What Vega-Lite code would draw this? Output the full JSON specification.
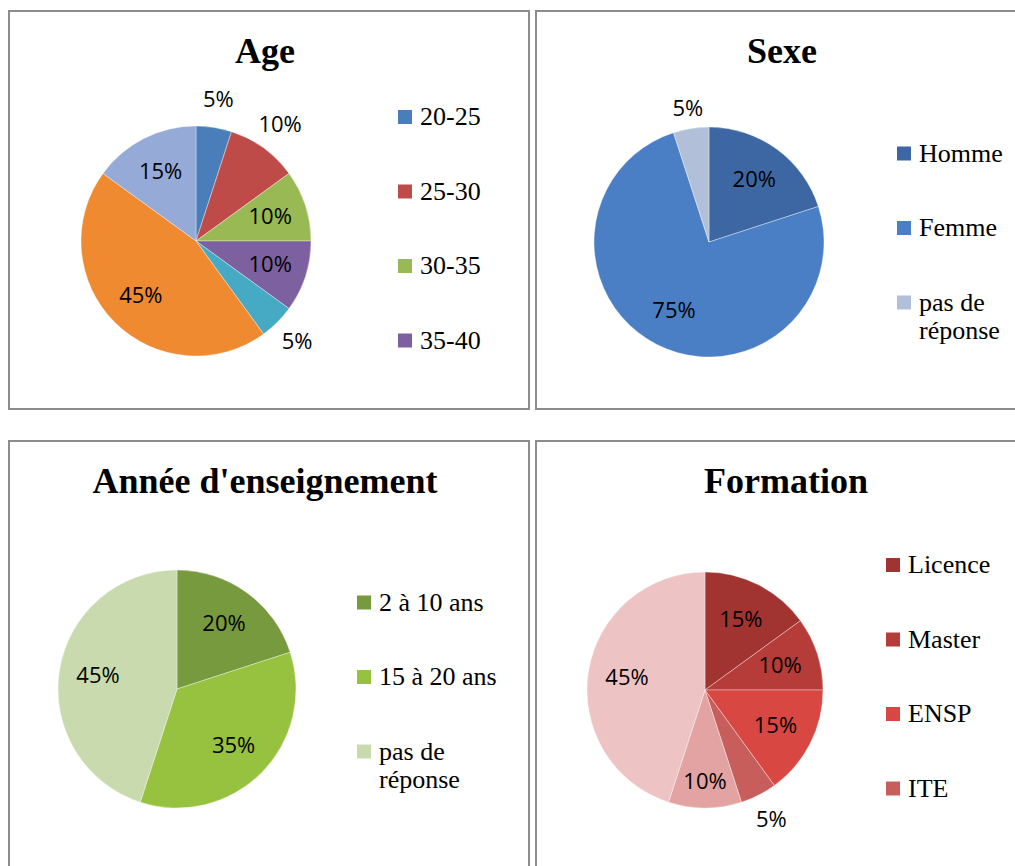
{
  "$schema": "https://vega.github.io/schema/vega-lite/v6.json",
  "padding": {"left": 8, "top": 10, "right": 0, "bottom": 0},
  "background": "white",
  "spacing": 30,
  "resolve": {"scale": {"color": "independent"}, "legend": {"color": "independent"}},
  "config": {
    "view": {"stroke": "#8c8c8c", "strokeWidth": 2},
    "title": {
      "font": "Liberation Serif",
      "fontSize": 36,
      "fontWeight": "bold",
      "color": "#000000",
      "anchor": "middle",
      "frame": "group",
      "baseline": "alphabetic",
      "offset": -60
    }
  },
  "vconcat": [
    {
      "spacing": 5,
      "resolve": {"scale": {"color": "independent"}, "legend": {"color": "independent"}},
      "hconcat": [
        {
          "width": 520,
          "height": 398,
          "view": {"stroke": "#8c8c8c", "strokeWidth": 2},
          "title": {"text": "Age", "dx": -4},
          "data": {"values": [
            {"i": 1, "cat": "20-25", "value": 0.05},
            {"i": 2, "cat": "25-30", "value": 0.10},
            {"i": 3, "cat": "30-35", "value": 0.10},
            {"i": 4, "cat": "35-40", "value": 0.10},
            {"i": 5, "cat": "40-45", "value": 0.05},
            {"i": 6, "cat": "pas de réponse", "value": 0.45},
            {"i": 7, "cat": "45-50", "value": 0.15}
          ]},
          "layer": [
            {
              "mark": {"type": "arc", "x": 187, "y": 230, "outerRadius": 115, "stroke": "#ffffff", "strokeWidth": 0.6, "strokeOpacity": 0.6},
              "encoding": {
                "theta": {"field": "value", "type": "quantitative", "stack": true},
                "order": {"field": "i", "type": "quantitative"},
                "color": {
                  "field": "cat", "type": "nominal",
                  "scale": {
                    "domain": ["20-25", "25-30", "30-35", "35-40", "40-45", "pas de réponse", "45-50"],
                    "range": ["#4a7ebb", "#be4b48", "#98b954", "#7d60a0", "#46aac5", "#ef8a30", "#95aad6"]
                  },
                  "legend": {
                    "title": null, "values": ["20-25", "25-30", "30-35", "35-40"],
                    "orient": "none", "legendX": 383, "legendY": 93,
                    "symbolType": "square", "symbolSize": 196, "symbolStrokeWidth": 0, "symbolOpacity": 1,
                    "labelFont": "Liberation Serif", "labelFontSize": 26, "labelColor": "#000000",
                    "labelOffset": 2, "rowPadding": 48.5, "padding": 0
                  }
                }
              }
            },
            {
              "mark": {"type": "text", "x": 187, "y": 230, "radius": {"expr": "indexof(['20-25','25-30','40-45'], datum.cat) >= 0 ? 143 : 78"}, "font": "Open Sans", "fontSize": 22, "color": "#000000"},
              "encoding": {
                "theta": {"field": "value", "type": "quantitative", "stack": true},
                "order": {"field": "i", "type": "quantitative"},
                "text": {"field": "value", "type": "quantitative", "format": ".0%"}
              }
            }
          ]
        },
        {
          "width": 480,
          "height": 398,
          "view": {"stroke": "#8c8c8c", "strokeWidth": 2},
          "title": {"text": "Sexe", "dx": 6},
          "data": {"values": [
            {"i": 1, "cat": "Homme", "value": 0.20},
            {"i": 2, "cat": "Femme", "value": 0.75},
            {"i": 3, "cat": "pas de réponse", "value": 0.05}
          ]},
          "layer": [
            {
              "mark": {"type": "arc", "x": 173, "y": 231, "outerRadius": 115, "stroke": "#ffffff", "strokeWidth": 0.6, "strokeOpacity": 0.6},
              "encoding": {
                "theta": {"field": "value", "type": "quantitative", "stack": true},
                "order": {"field": "i", "type": "quantitative"},
                "color": {
                  "field": "cat", "type": "nominal",
                  "scale": {"domain": ["Homme", "Femme", "pas de réponse"], "range": ["#3c67a3", "#4a7fc6", "#b2bfd8"]},
                  "legend": {
                    "title": null, "orient": "none", "legendX": 355, "legendY": 129.5,
                    "symbolType": "square", "symbolSize": 196, "symbolStrokeWidth": 0, "symbolOpacity": 1,
                    "labelFont": "Liberation Serif", "labelFontSize": 26, "labelColor": "#000000",
                    "labelOffset": 2, "rowPadding": 48.5, "padding": 0,
                    "labelExpr": "datum.label == 'pas de réponse' ? ['pas de', 'réponse'] : datum.label",
                    "labelLimit": 300,
                    "encode": {"labels": {"update": {"lineHeight": {"value": 30}}}}
                  }
                }
              }
            },
            {
              "mark": {"type": "text", "x": 173, "y": 231, "radius": {"expr": "datum.cat == 'pas de réponse' ? 135 : 77"}, "font": "Open Sans", "fontSize": 22, "color": "#000000"},
              "encoding": {
                "theta": {"field": "value", "type": "quantitative", "stack": true},
                "order": {"field": "i", "type": "quantitative"},
                "text": {"field": "value", "type": "quantitative", "format": ".0%"}
              }
            }
          ]
        }
      ]
    },
    {
      "spacing": 5,
      "resolve": {"scale": {"color": "independent"}, "legend": {"color": "independent"}},
      "hconcat": [
        {
          "width": 520,
          "height": 429,
          "view": {"stroke": "#8c8c8c", "strokeWidth": 2},
          "title": {"text": "Année d'enseignement", "dx": -4},
          "data": {"values": [
            {"i": 1, "cat": "2 à 10 ans", "value": 0.20},
            {"i": 2, "cat": "15 à 20 ans", "value": 0.35},
            {"i": 3, "cat": "pas de réponse", "value": 0.45}
          ]},
          "layer": [
            {
              "mark": {"type": "arc", "x": 168, "y": 248, "outerRadius": 119, "stroke": "#ffffff", "strokeWidth": 0.6, "strokeOpacity": 0.6},
              "encoding": {
                "theta": {"field": "value", "type": "quantitative", "stack": true},
                "order": {"field": "i", "type": "quantitative"},
                "color": {
                  "field": "cat", "type": "nominal",
                  "scale": {"domain": ["2 à 10 ans", "15 à 20 ans", "pas de réponse"], "range": ["#779a3e", "#96c23f", "#c8daae"]},
                  "legend": {
                    "title": null, "orient": "none", "legendX": 342, "legendY": 148.5,
                    "symbolType": "square", "symbolSize": 196, "symbolStrokeWidth": 0, "symbolOpacity": 1,
                    "labelFont": "Liberation Serif", "labelFontSize": 26, "labelColor": "#000000",
                    "labelOffset": 2, "rowPadding": 48.5, "padding": 0,
                    "labelExpr": "datum.label == 'pas de réponse' ? ['pas de', 'réponse'] : datum.label",
                    "labelLimit": 300,
                    "encode": {"labels": {"update": {"lineHeight": {"value": 30}}}}
                  }
                }
              }
            },
            {
              "mark": {"type": "text", "x": 168, "y": 248, "radius": 80, "font": "Open Sans", "fontSize": 22, "color": "#000000"},
              "encoding": {
                "theta": {"field": "value", "type": "quantitative", "stack": true},
                "order": {"field": "i", "type": "quantitative"},
                "text": {"field": "value", "type": "quantitative", "format": ".0%"}
              }
            }
          ]
        },
        {
          "width": 480,
          "height": 429,
          "view": {"stroke": "#8c8c8c", "strokeWidth": 2},
          "title": {"text": "Formation", "dx": 10},
          "data": {"values": [
            {"i": 1, "cat": "Licence", "value": 0.15},
            {"i": 2, "cat": "Master", "value": 0.10},
            {"i": 3, "cat": "ENSP", "value": 0.15},
            {"i": 4, "cat": "ITE", "value": 0.05},
            {"i": 5, "cat": "Autre", "value": 0.10},
            {"i": 6, "cat": "pas de réponse", "value": 0.45}
          ]},
          "layer": [
            {
              "mark": {"type": "arc", "x": 169, "y": 249, "outerRadius": 118, "stroke": "#ffffff", "strokeWidth": 0.6, "strokeOpacity": 0.6},
              "encoding": {
                "theta": {"field": "value", "type": "quantitative", "stack": true},
                "order": {"field": "i", "type": "quantitative"},
                "color": {
                  "field": "cat", "type": "nominal",
                  "scale": {"domain": ["Licence", "Master", "ENSP", "ITE", "Autre", "pas de réponse"], "range": ["#a13331", "#b63c39", "#d84742", "#c85e5b", "#e3a3a3", "#edc4c3"]},
                  "legend": {
                    "title": null, "values": ["Licence", "Master", "ENSP", "ITE"],
                    "orient": "none", "legendX": 344, "legendY": 111,
                    "symbolType": "square", "symbolSize": 196, "symbolStrokeWidth": 0, "symbolOpacity": 1,
                    "labelFont": "Liberation Serif", "labelFontSize": 26, "labelColor": "#000000",
                    "labelOffset": 2, "rowPadding": 48.5, "padding": 0
                  }
                }
              }
            },
            {
              "mark": {"type": "text", "x": 169, "y": 249, "radius": {"expr": "datum.cat == 'ITE' ? 146 : datum.cat == 'Autre' ? 92 : 79"}, "font": "Open Sans", "fontSize": 22, "color": "#000000"},
              "encoding": {
                "theta": {"field": "value", "type": "quantitative", "stack": true},
                "order": {"field": "i", "type": "quantitative"},
                "text": {"field": "value", "type": "quantitative", "format": ".0%"}
              }
            }
          ]
        }
      ]
    }
  ]
}
